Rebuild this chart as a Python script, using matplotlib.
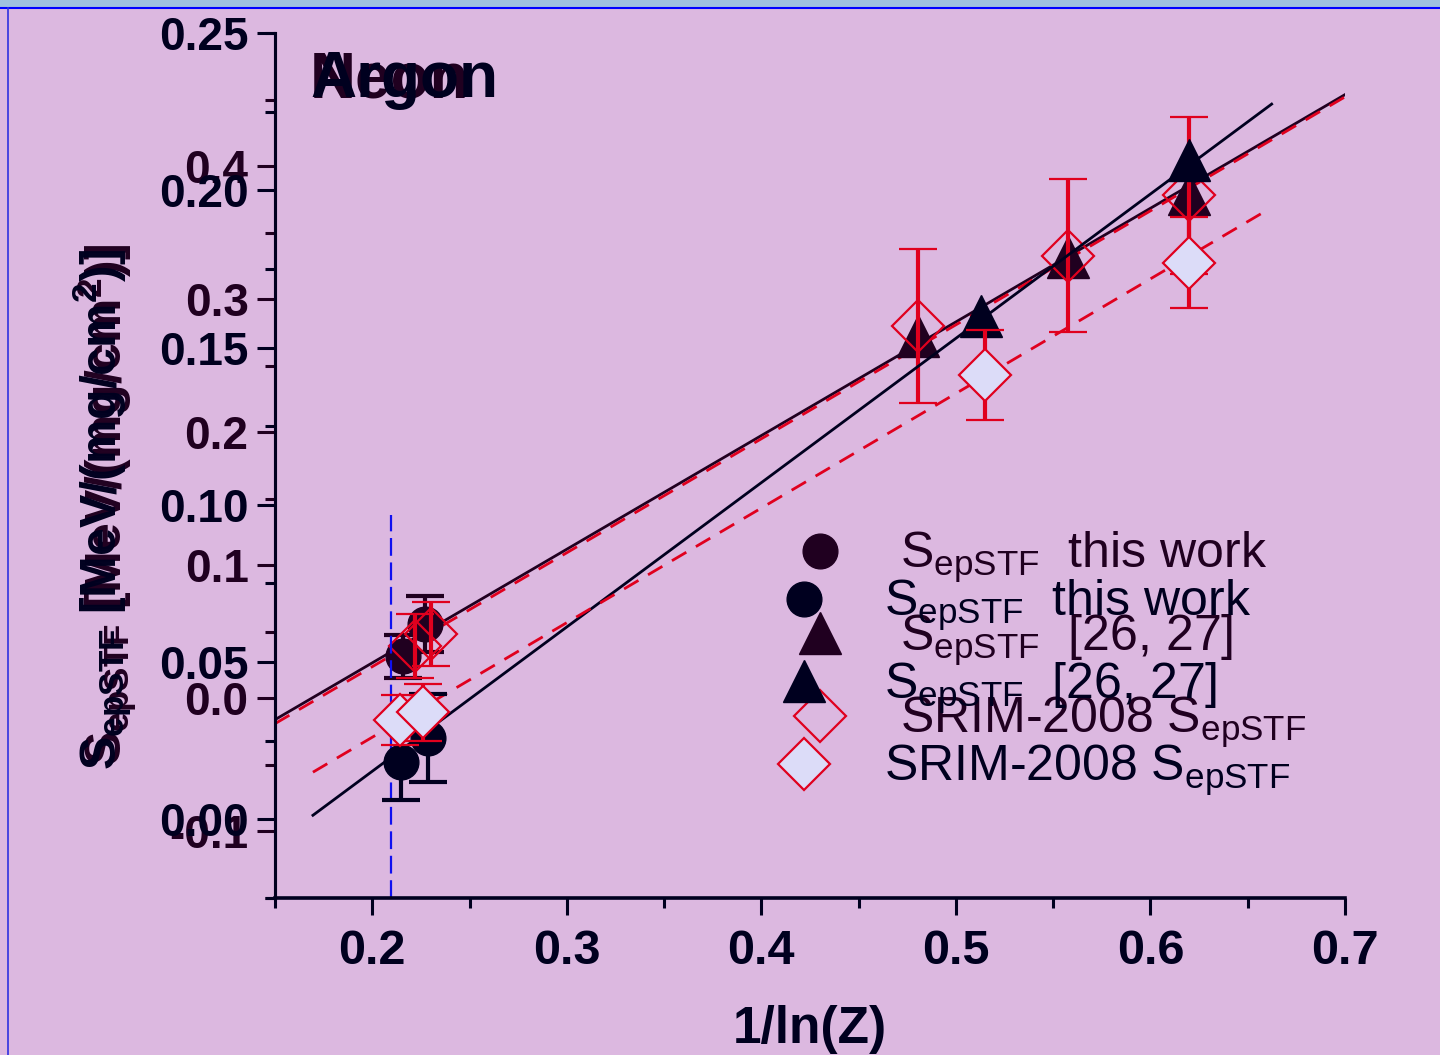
import matplotlib
matplotlib.use("Agg")
import matplotlib.pyplot as plt
from matplotlib.lines import Line2D
import numpy as np

plt.rcParams['font.family'] = ['Liberation Sans', 'DejaVu Sans']
plt.rcParams['mathtext.fontset'] = 'custom'
plt.rcParams['mathtext.rm'] = 'Liberation Sans'
plt.rcParams['mathtext.bf'] = 'Liberation Sans:bold'

NAVY = '#00001f'
MAROON = '#200020'
RED = '#e0001e'
FILL = '#dcdcf8'
BG = '#dcb8e0'

# ---------------- Layer A : Argon (navy axis) ----------------
ar_circ_x = [0.215, 0.2286]
ar_circ_y = [0.0181, 0.0260]
ar_circ_err = [0.012, 0.014]
ar_tri_x = [0.513, 0.620]
ar_tri_y = [0.160, 0.2096]
ar_srim_x = [0.2145, 0.226, 0.515, 0.620]
ar_srim_y = [0.0315, 0.0340, 0.1412, 0.177]
ar_srim_err = [0.008, 0.009, 0.0143, 0.0145]
ar_fit_x = [0.1695, 0.6623]
ar_fit_y = [0.0013, 0.2274]
ar_srimfit_x = [0.1695, 0.660]
ar_srimfit_y = [0.015, 0.1937]
ar_vline_x = 0.2096
ar_vline_y = [-0.025, 0.0967]

# ---------------- Layer B : Neon (maroon axis) ----------------
ne_circ_x = [0.2158, 0.227]
ne_circ_y = [0.0316, 0.0558]
ne_circ_err = [0.016, 0.021]
ne_tri_x = [0.4804, 0.5575, 0.620]
ne_tri_y = [0.272, 0.332, 0.379]
ne_srim_x = [0.222, 0.230, 0.4804, 0.5575, 0.620]
ne_srim_y = [0.0392, 0.0483, 0.2797, 0.3327, 0.378]
ne_srim_err = [0.024, 0.024, 0.058, 0.0575, 0.059]
ne_fit_x = [0.15, 0.70]
ne_fit_y = [-0.016, 0.4537]
ne_srimfit_x = [0.15, 0.70]
ne_srimfit_y = [-0.019, 0.452]

ar_yticks = [0.00, 0.05, 0.10, 0.15, 0.20, 0.25]
ne_yticks = [-0.1, 0.0, 0.1, 0.2, 0.3, 0.4]
xticks = [0.2, 0.3, 0.4, 0.5, 0.6, 0.7]

MS_C, MS_T, MS_D = 25, 30, 26

fig = plt.figure(figsize=(14.4, 10.55), dpi=100, facecolor=BG)
rect = [275/1440, 1-898/1055, (1345-275)/1440, (898-33)/1055]

ax2 = fig.add_axes(rect)   # Neon (behind)
ax1 = fig.add_axes(rect)   # Argon (front)
for ax in (ax1, ax2):
    ax.set_xlim(0.15, 0.70)
    ax.patch.set_alpha(0)
    for s in ('top', 'right'):
        ax.spines[s].set_visible(False)
ax2.patch.set_facecolor(BG)
ax2.patch.set_alpha(1)
ax1.set_ylim(-0.025, 0.25)
ax2.set_ylim(-0.15, 0.5)

bold_tick = dict(family=['Liberation Sans', 'DejaVu Sans'], weight='bold', size=33)

# Neon axis styling
ax2.spines['left'].set_color(MAROON)
ax2.spines['left'].set_linewidth(2.2)
ax2.spines['bottom'].set_visible(False)
ax2.set_yticks(ne_yticks)
ax2.set_yticklabels(['%.1f' % v for v in ne_yticks], fontdict=bold_tick, color=MAROON)
ax2.set_yticks(np.arange(-0.15, 0.5001, 0.05), minor=True)
ax2.tick_params(axis='y', which='major', length=13, width=2.2, color=MAROON, pad=6)
ax2.tick_params(axis='y', which='minor', length=7, width=2.2, color=MAROON)
ax2.set_xticks([])

# Argon axis styling
ax1.spines['left'].set_color(NAVY)
ax1.spines['left'].set_linewidth(2.2)
ax1.spines['bottom'].set_color(NAVY)
ax1.spines['bottom'].set_linewidth(2.6)
ax1.set_yticks(ar_yticks)
ax1.set_yticklabels(['%.2f' % v for v in ar_yticks], fontdict=bold_tick, color=NAVY)
ax1.set_yticks(np.arange(-0.025, 0.2501, 0.025), minor=True)
ax1.tick_params(axis='y', which='major', length=13, width=2.2, color=NAVY, pad=6)
ax1.tick_params(axis='y', which='minor', length=7, width=2.2, color=NAVY)
ax1.set_xticks(xticks)
ax1.set_xticklabels(['%.1f' % v for v in xticks],
                    fontdict=dict(family=['Liberation Sans', 'DejaVu Sans'],
                                  weight='bold', size=35),
                    color=NAVY)
ax1.set_xticks(np.arange(0.15, 0.7001, 0.05), minor=True)
ax1.tick_params(axis='x', which='major', length=12, width=2.2, color=NAVY, pad=10)
ax1.tick_params(axis='x', which='minor', length=7, width=2.2, color=NAVY)

# ---------- Neon data ----------
ax2.plot(ne_fit_x, ne_fit_y, color=MAROON, lw=2, zorder=2)
ax2.plot(ne_srimfit_x, ne_srimfit_y, color=RED, lw=2, ls=(0, (6, 4)), zorder=2)
ax2.errorbar(ne_srim_x, ne_srim_y, yerr=ne_srim_err, fmt='D', ms=MS_D, mfc='none',
             mec=RED, mew=1.6, ecolor=RED, elinewidth=3, capsize=14, capthick=3, zorder=4)
ax2.errorbar(ne_circ_x, ne_circ_y, yerr=ne_circ_err, fmt='o', ms=MS_C, color=MAROON,
             ecolor=MAROON, elinewidth=3, capsize=14, capthick=3, zorder=3)
ax2.plot(ne_tri_x, ne_tri_y, '^', ms=MS_T, color=MAROON, zorder=3, ls='none')

# ---------- Argon data ----------
ax1.plot([ar_vline_x, ar_vline_x], ar_vline_y, color='#1010f0', lw=1.6,
         ls=(0, (8, 3)), zorder=2)
ax1.plot(ar_fit_x, ar_fit_y, color=NAVY, lw=2, zorder=2)
ax1.plot(ar_srimfit_x, ar_srimfit_y, color=RED, lw=2, ls=(0, (6, 4)), zorder=2)
ax1.errorbar(ar_srim_x, ar_srim_y, yerr=ar_srim_err, fmt='D', ms=MS_D, mfc=FILL,
             mec=RED, mew=1.6, ecolor=RED, elinewidth=3, capsize=14, capthick=3, zorder=4)
ax1.errorbar(ar_circ_x, ar_circ_y, yerr=ar_circ_err, fmt='o', ms=MS_C, color=NAVY,
             ecolor=NAVY, elinewidth=3, capsize=14, capthick=3, zorder=3)
ax1.plot(ar_tri_x, ar_tri_y, '^', ms=MS_T, color=NAVY, zorder=3, ls='none')

# ---------- Titles ----------
fig.text(310/1440, 1-97/1055, 'Neon', fontsize=46, fontweight='bold', color=MAROON)
fig.text(310/1440, 1-97/1055, 'Argon', fontsize=46, fontweight='bold', color=NAVY)

# ---------- Axis labels ----------
ylab = r'S$_\mathbf{epSTF}$ [MeV/(mg/cm$^\mathbf{2}$)]'
fig.text(107/1440, 1-505/1055, ylab, rotation=90, fontsize=36, fontweight='bold',
         color=MAROON, ha='center', va='center')
fig.text(102/1440, 1-510/1055, ylab, rotation=90, fontsize=36, fontweight='bold',
         color=NAVY, ha='center', va='center')
fig.text(810/1440, 1-1030/1055, '1/ln(Z)', fontsize=37, fontweight='bold', color=NAVY,
         ha='center', va='center')

# ---------- Legends ----------
def make_handles(col, fill):
    return [Line2D([], [], marker='o', ls='none', ms=MS_C, color=col),
            Line2D([], [], marker='^', ls='none', ms=MS_T, color=col),
            Line2D([], [], marker='D', ls='none', ms=MS_D, mfc=fill, mec=RED, mew=1.6)]

labels = [r'S$_\mathrm{epSTF}$  this work', r'S$_\mathrm{epSTF}$  [26, 27]',
          r'SRIM-2008 S$_\mathrm{epSTF}$']
leg2 = fig.legend(make_handles(MAROON, 'none'), labels, loc='upper left',
                  bbox_to_anchor=(790/1440, 1-530/1055), frameon=False, fontsize=36,
                  labelcolor=MAROON, handlelength=1.2, handletextpad=1.0,
                  labelspacing=0.55, borderpad=0, borderaxespad=0)
leg1 = fig.legend(make_handles(NAVY, FILL), labels, loc='upper left',
                  bbox_to_anchor=(774/1440, 1-578/1055), frameon=False, fontsize=36,
                  labelcolor=NAVY, handlelength=1.2, handletextpad=1.0,
                  labelspacing=0.55, borderpad=0, borderaxespad=0)

# ---------- Frame decoration ----------
fig.add_artist(plt.Rectangle((0, 1-7/1055), 1, 7/1055, transform=fig.transFigure,
                             color='#9ec0e0', zorder=0))
fig.add_artist(Line2D([0, 1], [1-8/1055, 1-8/1055], transform=fig.transFigure,
                      color='#0000ff', lw=1.5))
fig.add_artist(Line2D([8/1440, 8/1440], [0, 1-8/1055], transform=fig.transFigure,
                      color='#3030e0', lw=1.2))

fig.savefig('out.png', dpi=100, facecolor=BG)
